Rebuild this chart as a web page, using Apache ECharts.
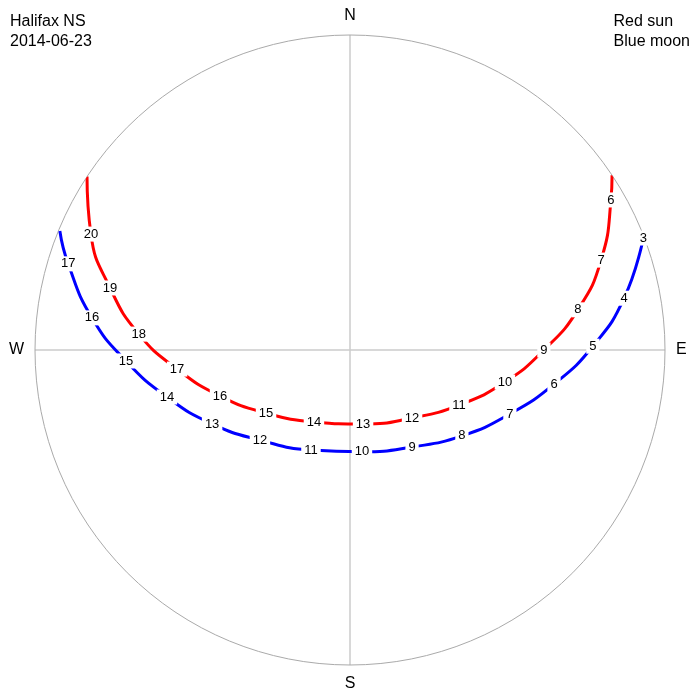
<!DOCTYPE html>
<html>
<head>
<meta charset="utf-8">
<script src="https://cdn.jsdelivr.net/npm/echarts@6/dist/echarts.min.js"></script>
<style>html,body{margin:0;padding:0;background:#fff}#c{width:700px;height:700px}</style>
</head>
<body>
<div id="c"></div>
<script>
// Sun path: azimuth (deg, clockwise from N), altitude (deg), hour label
const sunAz   = [56.3, 60.1, 70.3, 80.0, 90.0, 101.7, 116.8, 137.6, 170.0, 206.6, 233.1, 250.5, 263.7, 274.3, 284.5, 294.1, 303.4];
const sunAlt  = [0.0,  4.0, 13.8, 23.9, 34.6, 44.8, 55.1, 63.7, 68.5, 67.0, 60.0, 50.6, 40.3, 29.5, 19.2, 8.9, 0.0];
const sunHour = [null, 6, 7, 8, 9, 10, 11, 12, 13, 14, 15, 16, 17, 18, 19, 20, null];
// Moon path
const moonAz   = [69.1, 79.3, 89.1, 99.5, 111.8, 127.5, 147.4, 173.3, 201.3, 225.0, 241.8, 255.6, 267.2, 277.1, 287.0, 292.3];
const moonAlt  = [0.3, 10.3, 20.6, 30.9, 40.8, 49.7, 57.1, 60.7, 59.3, 53.6, 45.3, 36.0, 25.9, 15.7, 5.8, 0.4];
const moonHour = [3, 4, 5, 6, 7, 8, 9, 10, 11, 12, 13, 14, 15, 16, 17, null];
const compass = {0: 'N', 90: 'E', 180: 'S', 270: 'W'};

function pts(az, alt) { return az.map((a, i) => [90 - alt[i], a]); }
function labelPts(az, alt, hr) {
  const out = [];
  hr.forEach((h, i) => { if (h !== null) out.push({value: [90 - alt[i], az[i]], hour: h}); });
  return out;
}
const lblStyle = {
  show: true, position: 'inside', color: '#000', fontSize: 13, opacity: 1,
  fontFamily: 'Liberation Sans, Arial, sans-serif',
  textBorderWidth: 0, textShadowBlur: 0,
  backgroundColor: '#fff', padding: [1, 3],
  formatter: p => String(p.data.hour)
};

const chart = echarts.init(document.getElementById('c'));
chart.setOption({
  animation: false,
  backgroundColor: '#fff',
  polar: {center: ['50%', '50%'], radius: 315},
  angleAxis: {
    type: 'value', min: 0, max: 360, interval: 90, startAngle: 90, clockwise: true,
    axisLine: {show: true, lineStyle: {color: '#aaa', width: 1}},
    axisTick: {show: false},
    splitLine: {show: true, lineStyle: {color: '#ccc', width: 1.5}},
    axisLabel: {
      show: true, margin: 11, color: '#000', fontSize: 16,
      fontFamily: 'Liberation Sans, Arial, sans-serif',
      formatter: v => compass[v] || ''
    }
  },
  radiusAxis: {
    type: 'value', min: 0, max: 90,
    axisLine: {show: false}, axisTick: {show: false}, axisLabel: {show: false}, splitLine: {show: false}
  },
  graphic: [
    {type: 'text', left: 10, top: 12, style: {text: 'Halifax NS\n2014-06-23', font: '16px Liberation Sans, Arial, sans-serif', fill: '#000', lineHeight: 20}},
    {type: 'text', right: 10, top: 12, style: {text: 'Red sun\nBlue moon', align: 'right', font: '16px Liberation Sans, Arial, sans-serif', fill: '#000', lineHeight: 20}}
  ],
  series: [
    {type: 'line', coordinateSystem: 'polar', data: pts(sunAz, sunAlt), smooth: true, symbol: 'none',
     lineStyle: {color: '#ff0000', width: 3}, z: 2},
    {type: 'line', coordinateSystem: 'polar', data: pts(moonAz, moonAlt), smooth: true, symbol: 'none',
     lineStyle: {color: '#0000ff', width: 3}, z: 2},
    {type: 'scatter', coordinateSystem: 'polar', data: labelPts(sunAz, sunAlt, sunHour), symbolSize: 1,
     itemStyle: {color: 'rgba(0,0,0,0)', opacity: 1}, label: lblStyle, z: 5},
    {type: 'scatter', coordinateSystem: 'polar', data: labelPts(moonAz, moonAlt, moonHour), symbolSize: 1,
     itemStyle: {color: 'rgba(0,0,0,0)', opacity: 1}, label: lblStyle, z: 5}
  ]
});
</script>
</body>
</html>
